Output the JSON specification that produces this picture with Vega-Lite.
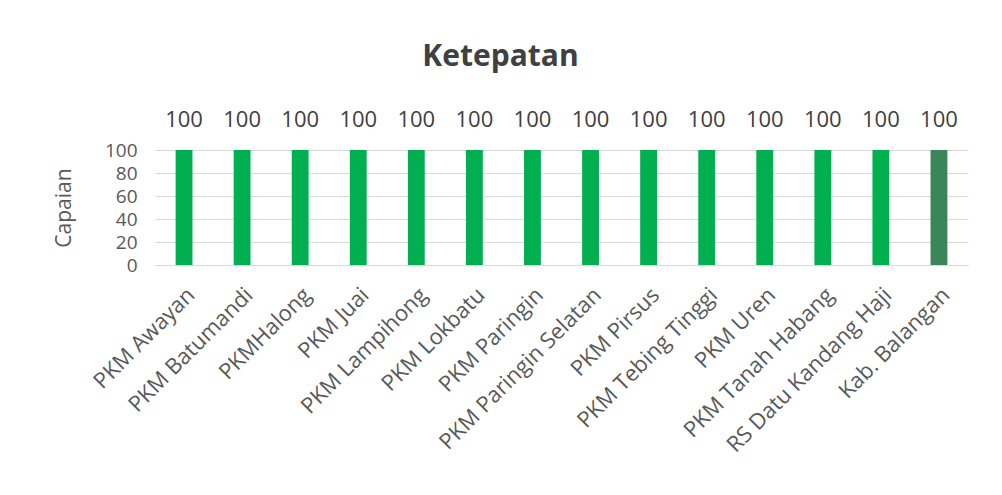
{
  "$schema": "https://vega.github.io/schema/vega-lite/v6.json",
  "autosize": "none",
  "width": 813,
  "height": 115,
  "padding": {"left": 155, "top": 150, "right": 34, "bottom": 230},
  "background": "#ffffff",
  "title": {
    "text": "Ketepatan",
    "font": "Open Sans",
    "fontSize": 30,
    "fontWeight": "bold",
    "color": "#404040",
    "anchor": "middle",
    "frame": "group",
    "dx": -61,
    "offset": 37
  },
  "data": {
    "values": [
      {"unit": "PKM Awayan", "capaian": 100, "grp": "pkm"},
      {"unit": "PKM Batumandi", "capaian": 100, "grp": "pkm"},
      {"unit": "PKMHalong", "capaian": 100, "grp": "pkm"},
      {"unit": "PKM Juai", "capaian": 100, "grp": "pkm"},
      {"unit": "PKM Lampihong", "capaian": 100, "grp": "pkm"},
      {"unit": "PKM Lokbatu", "capaian": 100, "grp": "pkm"},
      {"unit": "PKM Paringin", "capaian": 100, "grp": "pkm"},
      {"unit": "PKM Paringin Selatan", "capaian": 100, "grp": "pkm"},
      {"unit": "PKM Pirsus", "capaian": 100, "grp": "pkm"},
      {"unit": "PKM Tebing Tinggi", "capaian": 100, "grp": "pkm"},
      {"unit": "PKM Uren", "capaian": 100, "grp": "pkm"},
      {"unit": "PKM Tanah Habang", "capaian": 100, "grp": "pkm"},
      {"unit": "RS Datu Kandang Haji", "capaian": 100, "grp": "pkm"},
      {"unit": "Kab. Balangan", "capaian": 100, "grp": "kab"}
    ]
  },
  "encoding": {
    "x": {
      "field": "unit",
      "type": "nominal",
      "sort": null,
      "scale": {"paddingInner": 0.71, "paddingOuter": 0.355},
      "axis": {
        "title": null,
        "labelAngle": -45,
        "labelFont": "Open Sans",
        "labelFontSize": 22,
        "labelColor": "#595959",
        "labelPadding": 19,
        "ticks": false,
        "domainColor": "#d9d9d9",
        "labelLimit": 400
      }
    },
    "y": {
      "field": "capaian",
      "type": "quantitative",
      "scale": {"domain": [0, 100]},
      "axis": {
        "title": "Capaian",
        "titleFont": "Open Sans",
        "titleFontSize": 21,
        "titleFontWeight": "normal",
        "titleColor": "#595959",
        "titlePadding": 30,
        "values": [0, 20, 40, 60, 80, 100],
        "labelFont": "Open Sans",
        "labelFontSize": 19,
        "labelColor": "#595959",
        "labelPadding": 18,
        "ticks": false,
        "domain": false,
        "gridColor": "#d9d9d9"
      }
    }
  },
  "layer": [
    {
      "mark": {"type": "bar"},
      "encoding": {
        "color": {
          "field": "grp",
          "type": "nominal",
          "scale": {"domain": ["pkm", "kab"], "range": ["#00b050", "#3b8658"]},
          "legend": null
        }
      }
    },
    {
      "mark": {
        "type": "text",
        "baseline": "middle",
        "dy": -30,
        "font": "Open Sans",
        "fontSize": 22,
        "color": "#404040"
      },
      "encoding": {"text": {"field": "capaian", "type": "quantitative"}}
    }
  ],
  "config": {"view": {"stroke": null}}
}
